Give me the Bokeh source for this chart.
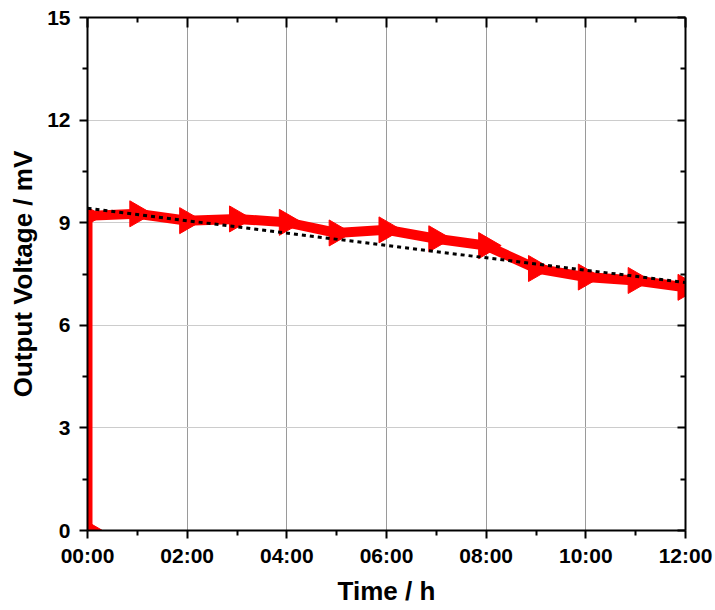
import math
from bokeh.plotting import figure
from bokeh.models import FixedTicker, LinearAxis, Range1d
from bokeh.embed import file_html
from bokeh.resources import INLINE

# ---- data ----
time_h = [0, 0, 1, 2, 3, 4, 5, 6, 7, 8, 9, 10, 11, 12]
voltage_mv = [0.0, 9.20, 9.26, 9.06, 9.11, 9.01, 8.70, 8.79, 8.53, 8.33, 7.66, 7.41, 7.31, 7.11]
fit_time_h = [0, 12]
fit_voltage_mv = [9.42, 7.25]
x_ticks = [0, 2, 4, 6, 8, 10, 12]
x_tick_labels = ["00:00", "02:00", "04:00", "06:00", "08:00", "10:00", "12:00"]
x_minor = [1, 3, 5, 7, 9, 11]
y_ticks = [0, 3, 6, 9, 12, 15]
y_minor = [1.5, 4.5, 7.5, 10.5, 13.5]

FONT = "Liberation Sans"

p = figure(width=715, height=610, frame_width=598, frame_height=513,
           output_backend="svg", toolbar_location=None,
           x_range=Range1d(0, 12), y_range=Range1d(0, 15),
           min_border_left=87, min_border_right=30, min_border_top=17, min_border_bottom=80)
p.outline_line_color = None
p.background_fill_color = "white"
p.border_fill_color = "white"

# grids
p.xgrid.ticker = FixedTicker(ticks=x_ticks)
p.ygrid.ticker = FixedTicker(ticks=y_ticks)
p.xgrid.grid_line_color = "#9a9a9a"
p.ygrid.grid_line_color = "#cccccc"
p.xgrid.grid_line_width = 1
p.ygrid.grid_line_width = 1

def style_axis(ax, ticks, minor, labels=True, inward=False, maj_len=8, min_len=5):
    ax.ticker = FixedTicker(ticks=ticks, minor_ticks=minor)
    ax.axis_line_color = "black"
    ax.axis_line_width = 2
    ax.major_tick_line_color = "black"
    ax.minor_tick_line_color = "black"
    ax.major_tick_line_width = 2
    ax.minor_tick_line_width = 2
    if inward:
        ax.major_tick_in = maj_len
        ax.major_tick_out = 0
        ax.minor_tick_in = min_len
        ax.minor_tick_out = 0
    else:
        ax.major_tick_in = 0
        ax.major_tick_out = maj_len
        ax.minor_tick_in = 0
        ax.minor_tick_out = min_len
    if labels:
        ax.major_label_text_font = FONT
        ax.major_label_text_font_style = "bold"
        ax.major_label_text_font_size = "21px"
        ax.major_label_text_color = "black"
    else:
        ax.major_label_overrides = {t: "" for t in ticks}
        ax.major_label_standoff = 0

xa = p.xaxis[0]
style_axis(xa, x_ticks, x_minor)
xa.major_label_overrides = {t: l for t, l in zip(x_ticks, x_tick_labels)}
xa.major_label_standoff = 5
xa.axis_label = "Time / h"
xa.axis_label_text_font = FONT
xa.axis_label_text_font_style = "bold"
xa.axis_label_text_font_size = "26px"
xa.axis_label_text_color = "black"
xa.axis_label_standoff = 6

ya = p.yaxis[0]
style_axis(ya, y_ticks, y_minor)
ya.major_label_standoff = 9
ya.axis_label = "Output Voltage / mV"
ya.axis_label_text_font = FONT
ya.axis_label_text_font_style = "bold"
ya.axis_label_text_font_size = "26px"
ya.axis_label_text_color = "black"
ya.axis_label_standoff = 6

top = LinearAxis()
style_axis(top, x_ticks, x_minor, labels=False, inward=True, maj_len=10, min_len=5)
p.add_layout(top, "above")
right = LinearAxis()
style_axis(right, y_ticks, y_minor, labels=False, inward=True, maj_len=8, min_len=5)
p.add_layout(right, "right")

# data
p.line(time_h, voltage_mv, line_color="red", line_width=10, line_join="miter")
p.scatter(time_h, voltage_mv, marker="triangle", size=26, angle=-math.pi / 2,
          fill_color="red", line_color="red")
p.line(fit_time_h, fit_voltage_mv, line_color="black", line_width=3, line_dash="4 4")

open("out.html", "w").write(file_html(p, INLINE))
